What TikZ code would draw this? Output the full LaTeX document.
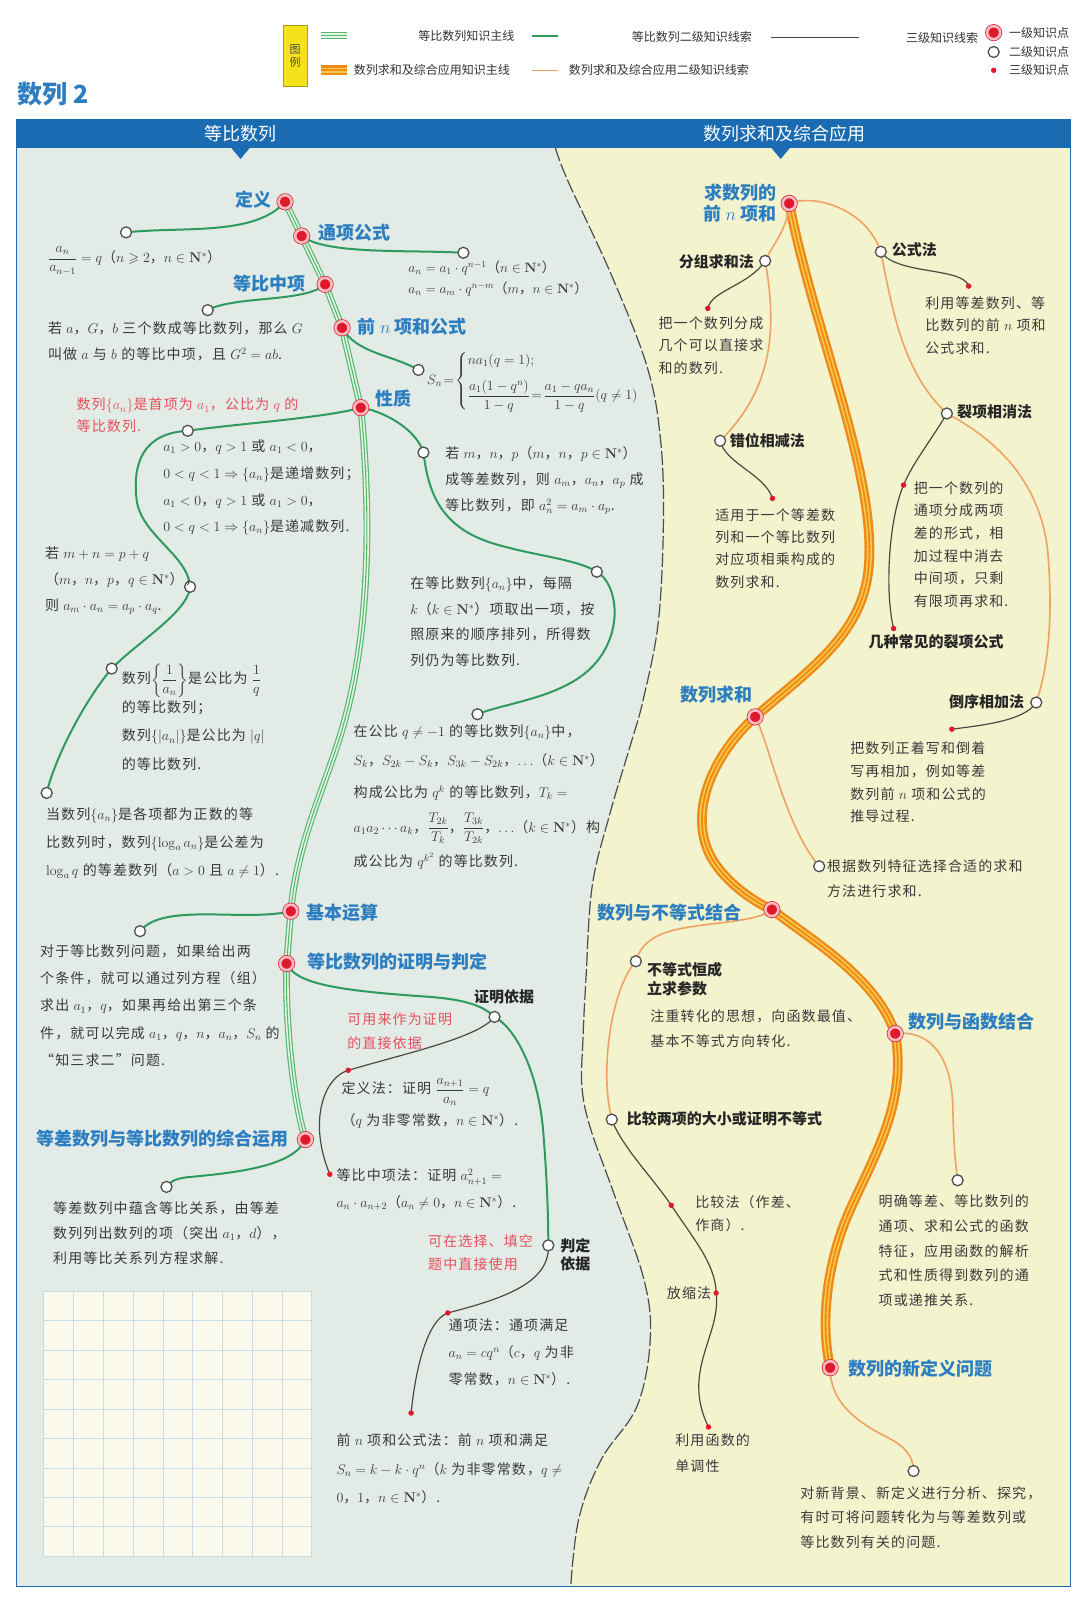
\RequirePackage{fix-cm}
\documentclass[tikz,border=0pt]{standalone}
\usepackage{amsmath,amssymb}
\usepackage[no-math]{fontspec}
\setmainfont{Noto Sans CJK SC}
\newfontfamily\bodyfont[LetterSpace=8]{Noto Sans CJK SC}
\definecolor{leftbg}{HTML}{E3EBE6}
\definecolor{rightbg}{HTML}{F3F3CE}
\definecolor{hdr}{HTML}{1A6BB2}
\definecolor{gmain}{HTML}{56B872}
\definecolor{gpale}{HTML}{E6F4E4}
\definecolor{gsec}{HTML}{2E9A60}
\definecolor{omain}{HTML}{EE8A18}
\definecolor{opale}{HTML}{F8CB4E}
\definecolor{osec}{HTML}{F0A262}
\definecolor{tlinec}{HTML}{4A4A42}
\definecolor{lblue}{HTML}{2C7EC0}
\definecolor{txtc}{HTML}{3A3A3A}
\definecolor{redtxt}{HTML}{E5505C}
\definecolor{kred}{HTML}{E01A2C}
\definecolor{kpink}{HTML}{F7BCC2}
\definecolor{ringc}{HTML}{505050}
\definecolor{gridbg}{HTML}{FCFAEC}
\definecolor{gridln}{HTML}{C6DCE6}
\definecolor{legy}{HTML}{F5E21A}
\pgfdeclarelayer{bg}
\pgfdeclarelayer{lines}
\pgfsetlayers{bg,lines,main}
\begin{document}
\begin{tikzpicture}[x=1.0189pt,y=-1.0189pt,
  lvlA/.style={circle,inner sep=0pt,minimum size=13pt,fill=kred,draw=kred,line width=0.7pt,double=kpink,double distance=2.6pt},
  lvlB/.style={circle,inner sep=0pt,minimum size=11pt,fill=white,draw=ringc,line width=1.3pt},
  lvlC/.style={circle,inner sep=0pt,minimum size=5.5pt,fill=kred},
  gmainA/.style={draw=gmain,line width=1.2pt,double=gpale,double distance=4.4pt},
  gmainB/.style={draw=gmain,line width=1.1pt},
  omainA/.style={draw=omain,line width=2.4pt,double=opale,double distance=5pt},
  omainB/.style={draw=omain,line width=1.8pt},
  gline/.style={draw=gsec,line width=2pt},
  oline/.style={draw=osec,line width=1.6pt},
  tline/.style={draw=tlinec,line width=1.2pt},
  blbl/.style={text=lblue,font=\fontsize{18}{21.5}\selectfont\bfseries,inner sep=0pt},
  klbl/.style={text=black!85,font=\fontsize{15}{18.5}\selectfont\bfseries,inner sep=0pt},
  txt/.style={text=txtc,font=\bodyfont\fontsize{14}{#1}\selectfont,align=left,anchor=north west,inner sep=0pt},
  txt/.default=25,
  rtxt/.style={txt=#1,text=redtxt},
  rtxt/.default=23,
  lgd/.style={text=black!80,font=\fontsize{12}{14}\selectfont,inner sep=0pt},
  divline/.style={draw=black!70,line width=1.2pt,dash pattern=on 14pt off 3pt}
]
\useasboundingbox (0,0) rectangle (1060,1568);

% ---------- background ----------
\begin{pgfonlayer}{bg}
\fill[rightbg] (16,145) rectangle (1050,1557);
\fill[leftbg] (16,145) -- plot[smooth,tension=0.6] coordinates {(545,145) (557,177) (600,270) (635,360) (648,430) (651,510) (646,610) (631,687) (618,733) (598,800) (581,870) (575,960) (572,1020) (571,1066) (579,1106) (602,1170) (632,1256) (638,1315) (625,1380) (590,1432) (568,1490) (560,1557)} -- (16,1557) -- cycle;
\draw[divline] plot[smooth,tension=0.6] coordinates {(545,145) (557,177) (600,270) (635,360) (648,430) (651,510) (646,610) (631,687) (618,733) (598,800) (581,870) (575,960) (572,1020) (571,1066) (579,1106) (602,1170) (632,1256) (638,1315) (625,1380) (590,1432) (568,1490) (560,1557)};
\fill[hdr] (16,117) rectangle (1050,145);
\fill[hdr] (226,144) -- (246,144) -- (236,156) -- cycle;
\fill[hdr] (756,144) -- (776,144) -- (766,156) -- cycle;
\draw[hdr,line width=1pt] (16,117) rectangle (1050,1557);
\fill[gridbg] (43,1267) rectangle (306,1527);
\foreach \i in {0,...,9} {
  \draw[gridln,line width=0.8pt] ({43+\i*263/9},1267) -- ({43+\i*263/9},1527);
  \draw[gridln,line width=0.8pt] (43,{1267+\i*260/9}) -- (306,{1267+\i*260/9});
}
\end{pgfonlayer}

% ---------- title, header, legend ----------
\node[text=lblue,font=\fontsize{25}{28}\selectfont\bfseries,anchor=west,inner sep=0pt] (ttl) at (17,92) {数列 2};
\node[text=white,font=\fontsize{18}{20}\selectfont,inner sep=0pt] (h1) at (236,131) {等比数列};
\node[text=white,font=\fontsize{18}{20}\selectfont,inner sep=0pt] (h2) at (770,131) {数列求和及综合应用};

\node[fill=legy,draw=legy!70!black,minimum width=23.4pt,minimum height=61pt,inner sep=0pt,font=\fontsize{11}{13}\selectfont,align=center,text=black!70] (lgbox) at (289.5,55) {图\\例};
\draw[gmainA] (315,35) -- (340,35);
\draw[gmainB] (315,35) -- (340,35);
\draw[gline] (522,35) -- (548,35);
\draw[tline] (757,37) -- (843,37);
\draw[omainA] (315,69) -- (340,69);
\draw[omainB] (315,69) -- (340,69);
\draw[oline] (522,69) -- (548,69);
\node[lgd,anchor=east] (lg1) at (505,35) {等比数列知识主线};
\node[lgd,anchor=east] (lg2) at (738,36) {等比数列二级知识线索};
\node[lgd,anchor=east] (lg3) at (960,37) {三级知识线索};
\node[lgd,anchor=west] (lg4) at (347,69) {数列求和及综合应用知识主线};
\node[lgd,anchor=west] (lg5) at (558,69) {数列求和及综合应用二级知识线索};
\node[lvlA] (m1) at (975,32) {};
\node[lvlB] (m2) at (975,51) {};
\node[lvlC] (m3) at (975,69) {};
\node[lgd,anchor=west] (lg6) at (990,32) {一级知识点};
\node[lgd,anchor=west] (lg7) at (990,51) {二级知识点};
\node[lgd,anchor=west] (lg8) at (990,69) {三级知识点};

% ---------- left knowledge points ----------
\node[lvlA] (k1) at (279.7,198) {};
\node[lvlA] (k2) at (296,231.6) {};
\node[lvlA] (k3) at (319,279) {};
\node[lvlA] (k4) at (335.6,321.6) {};
\node[lvlA] (k5) at (354,400) {};
\node[lvlA] (k6) at (285.4,894.1) {};
\node[lvlA] (k7) at (281.2,945.5) {};
\node[lvlA] (k8) at (299.7,1118.2) {};

\node[lvlB] (a1) at (123.7,228) {};
\node[lvlB] (a2) at (454.7,248) {};
\node[lvlB] (a3) at (203.8,304.3) {};
\node[lvlB] (a4) at (410.6,363) {};
\node[lvlB] (pa) at (184.2,422.7) {};
\node[lvlB] (pb) at (186.5,575.8) {};
\node[lvlB] (pc) at (109.6,656) {};
\node[lvlB] (pd) at (45.8,778) {};
\node[lvlB] (pe) at (415.5,444) {};
\node[lvlB] (pf) at (585.6,561) {};
\node[lvlB] (pg) at (468.5,700.8) {};
\node[lvlB] (a6) at (137.4,913.7) {};
\node[lvlB] (zmyj) at (485.2,997.8) {};
\node[lvlB] (pdyj) at (538,1222) {};
\node[lvlB] (a8) at (163.4,1164.6) {};

\node[lvlC] (r1) at (341.7,1050.2) {};
\node[lvlC] (r2) at (323.6,1152.2) {};
\node[lvlC] (r3) at (439.4,1288.3) {};
\node[lvlC] (r4) at (403.4,1386.5) {};

% ---------- right knowledge points ----------
\node[lvlA] (q1) at (774.4,199.6) {};
\node[lvlA] (q2) at (741,703.4) {};
\node[lvlA] (q3) at (757.4,892.5) {};
\node[lvlA] (q4) at (878.4,1014.2) {};
\node[lvlA] (q5) at (814.6,1342) {};

\node[lvlB] (fzqh) at (750.8,256) {};
\node[lvlB] (cwxj) at (706.6,432.5) {};
\node[lvlB] (gsf) at (864.3,247) {};
\node[lvlB] (lxxx) at (929.1,405.7) {};
\node[lvlB] (dxxj) at (1016.8,689.3) {};
\node[lvlB] (gj) at (803.8,850) {};
\node[lvlB] (bdshc) at (623.9,943.2) {};
\node[lvlB] (bjlx) at (600.3,1098.5) {};
\node[lvlB] (mq) at (939.6,1158.1) {};
\node[lvlB] (xdc) at (896.4,1443.4) {};

\node[lvlC] (s1) at (694.5,302.6) {};
\node[lvlC] (s2) at (758,489) {};
\node[lvlC] (s3) at (950.4,280.7) {};
\node[lvlC] (s4) at (886.6,476) {};
\node[lvlC] (s5) at (876.8,616.7) {};
\node[lvlC] (s6) at (934,715.5) {};
\node[lvlC] (s7) at (658.6,1182.6) {};
\node[lvlC] (s8) at (702.7,1268.7) {};
\node[lvlC] (s9) at (695.2,1400.2) {};

% ---------- connectors ----------
\begin{pgfonlayer}{lines}
\draw[gmainA] (k1.center) -- (k2.center) -- (k3.center) -- (k4.center) -- (k5.center) .. controls (362,480) and (366,600) .. (340,700) .. controls (325,760) and (292,820) .. (k6.center) -- (k7.center) .. controls (280,1010) and (288,1080) .. (k8.center);
\draw[gmainB] (k1.center) -- (k2.center) -- (k3.center) -- (k4.center) -- (k5.center) .. controls (362,480) and (366,600) .. (340,700) .. controls (325,760) and (292,820) .. (k6.center) -- (k7.center) .. controls (280,1010) and (288,1080) .. (k8.center);

\draw[omainA] (q1.center) .. controls (800,330) and (862,470) .. (852,560) .. controls (845,625) and (790,660) .. (q2.center) .. controls (700,740) and (672,800) .. (700,845) .. controls (715,868) and (740,885) .. (q3.center) .. controls (800,925) and (860,960) .. (q4.center) .. controls (890,1080) and (860,1130) .. (835,1185) .. controls (810,1240) and (805,1300) .. (q5.center);
\draw[omainB] (q1.center) .. controls (800,330) and (862,470) .. (852,560) .. controls (845,625) and (790,660) .. (q2.center) .. controls (700,740) and (672,800) .. (700,845) .. controls (715,868) and (740,885) .. (q3.center) .. controls (800,925) and (860,960) .. (q4.center) .. controls (890,1080) and (860,1130) .. (835,1185) .. controls (810,1240) and (805,1300) .. (q5.center);

% green second level
\draw[gline] (k1.center) .. controls (250,232) and (180,222) .. (a1.center);
\draw[gline] (k2.center) .. controls (320,250) and (400,245) .. (a2.center);
\draw[gline] (k3.center) .. controls (300,297) and (230,290) .. (a3.center);
\draw[gline] (k4.center) .. controls (350,347) and (385,348) .. (a4.center);
\draw[gline] (k5.center) .. controls (320,410) and (230,416) .. (pa.center) .. controls (140,425) and (130,455) .. (134,490) .. controls (138,525) and (185,545) .. (pb.center) .. controls (185,600) and (135,630) .. (pc.center) .. controls (85,685) and (55,740) .. (pd.center);
\draw[gline] (k5.center) .. controls (375,403) and (408,420) .. (pe.center) .. controls (420,480) and (430,515) .. (480,532) .. controls (520,545) and (565,548) .. (pf.center) .. controls (610,575) and (615,640) .. (560,670) .. controls (530,687) and (490,692) .. (pg.center);
\draw[gline] (k6.center) .. controls (240,905) and (160,885) .. (a6.center);
\draw[gline] (k7.center) .. controls (290,965) and (330,972) .. (420,978) .. controls (460,981) and (475,988) .. (zmyj.center) .. controls (505,1008) and (528,1050) .. (533,1110) .. controls (537,1160) and (538,1195) .. (pdyj.center);
\draw[gline] (k8.center) .. controls (288,1143) and (240,1150) .. (185,1155) .. controls (175,1156) and (168,1158) .. (a8.center);

% black third level (left)
\draw[tline] (zmyj.center) .. controls (470,1018) and (400,1033) .. (r1.center) .. controls (318,1057) and (302,1100) .. (r2.center);
\draw[tline] (pdyj.center) .. controls (540,1260) and (490,1275) .. (r3.center) .. controls (420,1295) and (408,1340) .. (r4.center);

% orange second level
\draw[oline] (q1.center) .. controls (773,225) and (758,240) .. (fzqh.center) .. controls (762,320) and (760,380) .. (cwxj.center);
\draw[oline] (q1.center) .. controls (800,190) and (850,205) .. (gsf.center) .. controls (875,300) and (885,365) .. (lxxx.center) .. controls (975,430) and (1020,470) .. (1028,540) .. controls (1033,600) and (1030,650) .. (dxxj.center);
\draw[oline] (q2.center) .. controls (755,730) and (770,810) .. (gj.center);
\draw[oline] (q3.center) .. controls (745,905) and (690,905) .. (660,913) .. controls (640,918) and (628,928) .. (bdshc.center) .. controls (600,970) and (588,1050) .. (bjlx.center);
\draw[oline] (q4.center) .. controls (915,1010) and (935,1040) .. (935,1090) .. controls (936,1130) and (938,1145) .. (mq.center);
\draw[oline] (q5.center) .. controls (814,1375) and (840,1395) .. (870,1410) .. controls (890,1420) and (896,1430) .. (xdc.center);

% black third level (right)
\draw[tline] (fzqh.center) .. controls (735,280) and (698,285) .. (s1.center);
\draw[tline] (cwxj.center) .. controls (712,455) and (750,465) .. (s2.center);
\draw[tline] (gsf.center) .. controls (880,270) and (945,262) .. (s3.center);
\draw[tline] (lxxx.center) .. controls (915,430) and (895,455) .. (s4.center) .. controls (872,510) and (868,580) .. (s5.center);
\draw[tline] (dxxj.center) .. controls (1005,708) and (960,712) .. (s6.center);
\draw[tline] (bjlx.center) .. controls (610,1125) and (640,1155) .. (s7.center) .. controls (680,1215) and (702,1240) .. (s8.center) .. controls (708,1310) and (668,1345) .. (s9.center);
\end{pgfonlayer}

% ---------- labels ----------
\node[blbl,anchor=west] (bdy) at (231,196) {定义};
\node[blbl,anchor=west] (btx) at (312,228) {通项公式};
\node[blbl,anchor=west] (bdb) at (229,278) {等比中项};
\node[blbl,anchor=west] (bqn) at (351,320.6) {前 $n$ 项和公式};
\node[blbl,anchor=west] (bxz) at (368,391) {性质};
\node[blbl,anchor=west] (bjb) at (301,895.4) {基本运算};
\node[blbl,anchor=west] (bzm) at (301.5,943.8) {等比数列的证明与判定};
\node[blbl,anchor=west] (bzh) at (35.7,1117.2) {等差数列与等比数列的综合运用};
\node[blbl,anchor=east,align=right] (bqs) at (762,199.5) {求数列的\\前 $n$ 项和};
\node[blbl,anchor=west] (bsq) at (667.4,682) {数列求和};
\node[blbl,anchor=west] (bbd) at (585.6,895.8) {数列与不等式结合};
\node[blbl,anchor=west] (bhs) at (891.5,1002.7) {数列与函数结合};
\node[blbl,anchor=west] (bxd) at (832.6,1343) {数列的新定义问题};

\node[klbl,anchor=east] (lfz) at (740,256.8) {分组求和法};
\node[klbl,anchor=west] (lcw) at (716,432.5) {错位相减法};
\node[klbl,anchor=west] (lgs) at (875,245.4) {公式法};
\node[klbl,anchor=west] (llx) at (939,404) {裂项相消法};
\node[klbl,anchor=east] (ldx) at (1005,688.7) {倒序相加法};
\node[klbl] (ljz) at (918.5,630) {几种常见的裂项公式};
\node[klbl,anchor=west,align=left] (lbd) at (634.7,961) {不等式恒成\\立求参数};
\node[klbl,anchor=west] (lbj) at (615,1097.6) {比较两项的大小或证明不等式};
\node[klbl,anchor=west] (lzm) at (465,978.2) {证明依据};
\node[klbl,anchor=west,align=left] (lpd) at (549.6,1231) {判定\\依据};

% ---------- left texts ----------
\node[txt,anchor=west] (tdy) at (47,256) {$\dfrac{a_n}{a_{n-1}}=q$（$n\geqslant 2$，$n\in\mathbf{N}^*$）};
\node[txt,font=\bodyfont\fontsize{13.5}{20.5}\selectfont] (ttx) at (400.6,256) {$a_n=a_1\cdot q^{n-1}$（$n\in\mathbf{N}^*$）\\$a_n=a_m\cdot q^{n-m}$（$m$，$n\in\mathbf{N}^*$）};
\node[txt=26.5] (tdb) at (47,315) {若 $a$，$G$，$b$ 三个数成等比数列，那么 $G$\\叫做 $a$ 与 $b$ 的等比中项，且 $G^2=ab$.};
\node[txt,anchor=west,font=\bodyfont\fontsize{13.8}{16}\selectfont] (tsn) at (419,374) {$S_n\!=\!\begin{cases} na_1(q=1); \\[10pt] \dfrac{a_1(1-q^n)}{1-q}\!=\!\dfrac{a_1-qa_n}{1-q}(q\neq1)\end{cases}$};
\node[rtxt=21.7] (trd) at (75,390.5) {数列$\{a_n\}$是首项为 $a_1$，公比为 $q$ 的\\等比数列.};
\node[txt=26.7] (tA) at (160,431.5) {$a_1>0$，$q>1$ 或 $a_1<0$，\\$0<q<1\Rightarrow\{a_n\}$是递增数列；\\$a_1<0$，$q>1$ 或 $a_1>0$，\\$0<q<1\Rightarrow\{a_n\}$是递减数列.};
\node[txt=26] (tB) at (44,536) {若 $m+n=p+q$\\（$m$，$n$，$p$，$q\in\mathbf{N}^*$），\\则 $a_m\cdot a_n=a_p\cdot a_q$.};
\node[txt=28.5] (tC) at (119.4,651) {数列$\left\{\dfrac{1}{a_n}\right\}$是公比为 $\dfrac{1}{q}$\\的等比数列；\\数列$\{|a_n|\}$是公比为 $|q|$\\的等比数列.};
\node[txt=28] (tD) at (45,792) {当数列$\{a_n\}$是各项都为正数的等\\比数列时，数列$\{\log_a a_n\}$是公差为\\$\log_a q$ 的等差数列（$a>0$ 且 $a\neq1$）.};
\node[txt=25.8] (tE) at (436.7,438) {若 $m$，$n$，$p$（$m$，$n$，$p\in\mathbf{N}^*$）\\成等差数列，则 $a_m$，$a_n$，$a_p$ 成\\等比数列，即 $a_n^2=a_m\cdot a_p$.};
\node[txt=25.7] (tF) at (402.4,565.5) {在等比数列$\{a_n\}$中，每隔\\$k$（$k\in\mathbf{N}^*$）项取出一项，按\\照原来的顺序排列，所得数\\列仍为等比数列.};
\node[txt=28.5] (tG) at (346.8,711) {在公比 $q\neq-1$ 的等比数列$\{a_n\}$中，\\[0pt]$S_k$，$S_{2k}-S_k$，$S_{3k}-S_{2k}$，$\ldots$（$k\in\mathbf{N}^*$）\\[4pt]构成公比为 $q^k$ 的等比数列，$T_k=$\\[6pt]$a_1a_2\cdots a_k$，$\dfrac{T_{2k}}{T_k}$，$\dfrac{T_{3k}}{T_{2k}}$，$\ldots$（$k\in\mathbf{N}^*$）构\\[6pt]成公比为 $q^{k^2}$ 的等比数列.};
\node[txt=27.1] (tJ) at (39.2,927) {对于等比数列问题，如果给出两\\个条件，就可以通过列方程（组）\\求出 $a_1$，$q$，如果再给出第三个条\\件，就可以完成 $a_1$，$q$，$n$，$a_n$，$S_n$ 的\\“知三求二”问题.};
\node[rtxt=24.6] (tzr) at (340.6,993.4) {可用来作为证明\\的直接依据};
\node[txt=31.6] (tdyf) at (335,1057.8) {定义法：证明 $\dfrac{a_{n+1}}{a_n}=q$\\（$q$ 为非零常数，$n\in\mathbf{N}^*$）.};
\node[txt=26.7] (tdbf) at (330,1146.8) {等比中项法：证明 $a_{n+1}^2=$\\$a_n\cdot a_{n+2}$（$a_n\neq0$，$n\in\mathbf{N}^*$）.};
\node[rtxt=23.5] (tpr) at (420,1211) {可在选择、填空\\题中直接使用};
\node[txt=27] (ttxf) at (440,1293.4) {通项法：通项满足\\$a_n=cq^n$（$c$，$q$ 为非\\零常数，$n\in\mathbf{N}^*$）.};
\node[txt=28.5] (tqnf) at (330,1407) {前 $n$ 项和公式法：前 $n$ 项和满足\\$S_n=k-k\cdot q^n$（$k$ 为非零常数，$q\neq$\\$0$，$1$，$n\in\mathbf{N}^*$）.};
\node[txt=25] (tzh) at (52,1179) {等差数列中蕴含等比关系，由等差\\数列列出数列的项（突出 $a_1$，$d$），\\利用等比关系列方程求解.};

% ---------- right texts ----------
\node[txt=22.4] (tfz) at (646,310.3) {把一个数列分成\\几个可以直接求\\和的数列.};
\node[txt=22.4] (tcw) at (701.7,498.5) {适用于一个等差数\\列和一个等比数列\\对应项相乘构成的\\数列求和.};
\node[txt=22.4] (tgs) at (907.8,290.7) {利用等差数列、等\\比数列的前 $n$ 项和\\公式求和.};
\node[txt=22.6] (tlx) at (896.4,472.3) {把一个数列的\\通项分成两项\\差的形式，相\\加过程中消去\\中间项，只剩\\有限项再求和.};
\node[txt=22.6] (tdx) at (834.2,728) {把数列正着写和倒着\\写再相加，例如等差\\数列前 $n$ 项和公式的\\推导过程.};
\node[txt=25] (tgj) at (811.3,843.6) {根据数列特征选择合适的求和\\方法进行求和.};
\node[txt=25] (tbd) at (638,990.8) {注重转化的思想，向函数最值、\\基本不等式方向转化.};
\node[txt=23.3] (tbj) at (682,1172.4) {比较法（作差、\\作商）.};
\node[txt,anchor=east] (tfs) at (698,1269.3) {放缩法};
\node[txt=26] (tly) at (662.5,1407) {利用函数的\\单调性};
\node[txt=24.6] (tmq) at (862,1172.4) {明确等差、等比数列的\\通项、求和公式的函数\\特征，应用函数的解析\\式和性质得到数列的通\\项或递推关系.};
\node[txt=24.4] (txd) at (785.2,1458.6) {对新背景、新定义进行分析、探究，\\有时可将问题转化为与等差数列或\\等比数列有关的问题.};
\end{tikzpicture}
\end{document}
